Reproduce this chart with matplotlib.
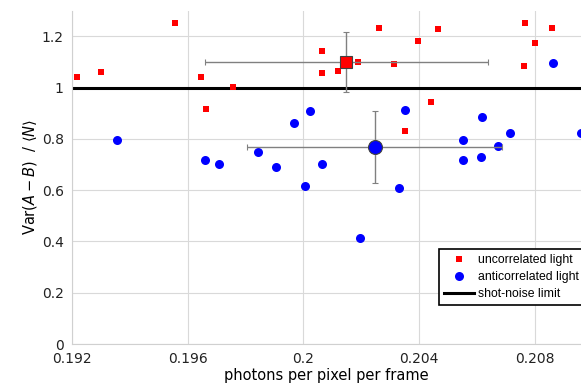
import matplotlib
matplotlib.use("Agg")
import matplotlib.pyplot as plt

# uncorrelated light (red squares)
red_x = [0.19217, 0.19300, 0.19557, 0.19647, 0.19664, 0.19758, 0.20066, 0.20066,
         0.20118, 0.20190, 0.20260, 0.20315, 0.20395, 0.20467, 0.20443, 0.20350,
         0.20765, 0.20859, 0.20800, 0.20762]
red_y = [1.041, 1.060, 1.251, 1.041, 0.916, 1.002, 1.142, 1.057,
         1.064, 1.099, 1.232, 1.092, 1.181, 1.228, 0.943, 0.830,
         1.251, 1.232, 1.173, 1.084]
red_mean = (0.20149, 1.099)
red_err = (0.0049, 0.118)

# anticorrelated light (blue circles)
blue_x = [0.19356, 0.19661, 0.19709, 0.19844, 0.19907, 0.19969, 0.20007, 0.20024,
          0.20066, 0.20197, 0.20329, 0.20353, 0.20551, 0.20551, 0.20613, 0.20616,
          0.20672, 0.20713, 0.20862, 0.20959]
blue_y = [0.795, 0.717, 0.702, 0.748, 0.690, 0.862, 0.616, 0.908,
          0.702, 0.413, 0.608, 0.912, 0.795, 0.717, 0.729, 0.885,
          0.772, 0.823, 1.096, 0.823]
blue_mean = (0.20246, 0.768)
blue_err = (0.0044, 0.14)

shot_noise = 1.0
xticks = [0.192, 0.196, 0.2, 0.204, 0.208]
xtick_labels = ["0.192", "0.196", "0.2", "0.204", "0.208"]
yticks = [0, 0.2, 0.4, 0.6, 0.8, 1.0, 1.2]
ytick_labels = ["0", "0.2", "0.4", "0.6", "0.8", "1", "1.2"]

plt.rcParams['font.family'] = ['DejaVu Sans']
plt.rcParams['mathtext.fontset'] = 'dejavusans'

fig = plt.figure(figsize=(5.81, 3.91), dpi=100)
ax = fig.add_axes([0.124, 0.120, 0.876, 0.853])

ax.set_xlim(0.192, 0.2096)
ax.set_ylim(0, 1.3)
ax.set_xticks(xticks)
ax.set_xticklabels(xtick_labels)
ax.set_yticks(yticks)
ax.set_yticklabels(ytick_labels)
ax.grid(True, color='#d9d9d9', linewidth=0.8)
ax.set_axisbelow(True)
for s in ['top', 'right']:
    ax.spines[s].set_visible(False)
for s in ['left', 'bottom']:
    ax.spines[s].set_color('#d0d0d0')
    ax.spines[s].set_linewidth(0.8)
ax.tick_params(length=0, labelsize=10, colors='#222222', pad=6)

ax.axhline(shot_noise, color='black', linewidth=2.2, zorder=2,
           label='shot-noise limit')

ax.plot(red_x, red_y, 's', color='#ff0000', markersize=5, markeredgewidth=0,
        zorder=3, label='uncorrelated light', clip_on=False)
ax.plot(blue_x, blue_y, 'o', color='#0000ff', markersize=6.5, markeredgewidth=0,
        zorder=3, label='anticorrelated light', clip_on=True)

ax.errorbar([red_mean[0]], [red_mean[1]], xerr=[red_err[0]], yerr=[red_err[1]],
            fmt='s', color='#ff0000', markersize=9, markeredgecolor='#404040',
            markeredgewidth=0.8, ecolor='#808080', elinewidth=1.0, capsize=2.5,
            capthick=1.0, zorder=4)
ax.errorbar([blue_mean[0]], [blue_mean[1]], xerr=[blue_err[0]], yerr=[blue_err[1]],
            fmt='o', color='#0000ff', markersize=10, markeredgecolor='#404040',
            markeredgewidth=0.8, ecolor='#808080', elinewidth=1.0, capsize=2.5,
            capthick=1.0, zorder=4)

ax.set_xlabel('photons per pixel per frame', fontsize=10.5, labelpad=1)
ax.set_ylabel(r'Var$(A-B)$  $\left/\right.$ $\langle N\rangle$', fontsize=10.5, labelpad=2)

handles, labels = ax.get_legend_handles_labels()
order = [1, 2, 0]
leg = fig.legend([handles[i] for i in order], [labels[i] for i in order],
                 loc='upper left', bbox_to_anchor=(0.7556, 0.3632),
                 frameon=True, fancybox=False, framealpha=1, edgecolor='black',
                 prop={'family': 'Liberation Sans', 'size': 8.8},
                 handlelength=2.5, handletextpad=0.3, borderpad=0.4,
                 labelspacing=0.42, borderaxespad=0)
leg.get_frame().set_linewidth(1.2)

fig.savefig('out.png', dpi=100)
